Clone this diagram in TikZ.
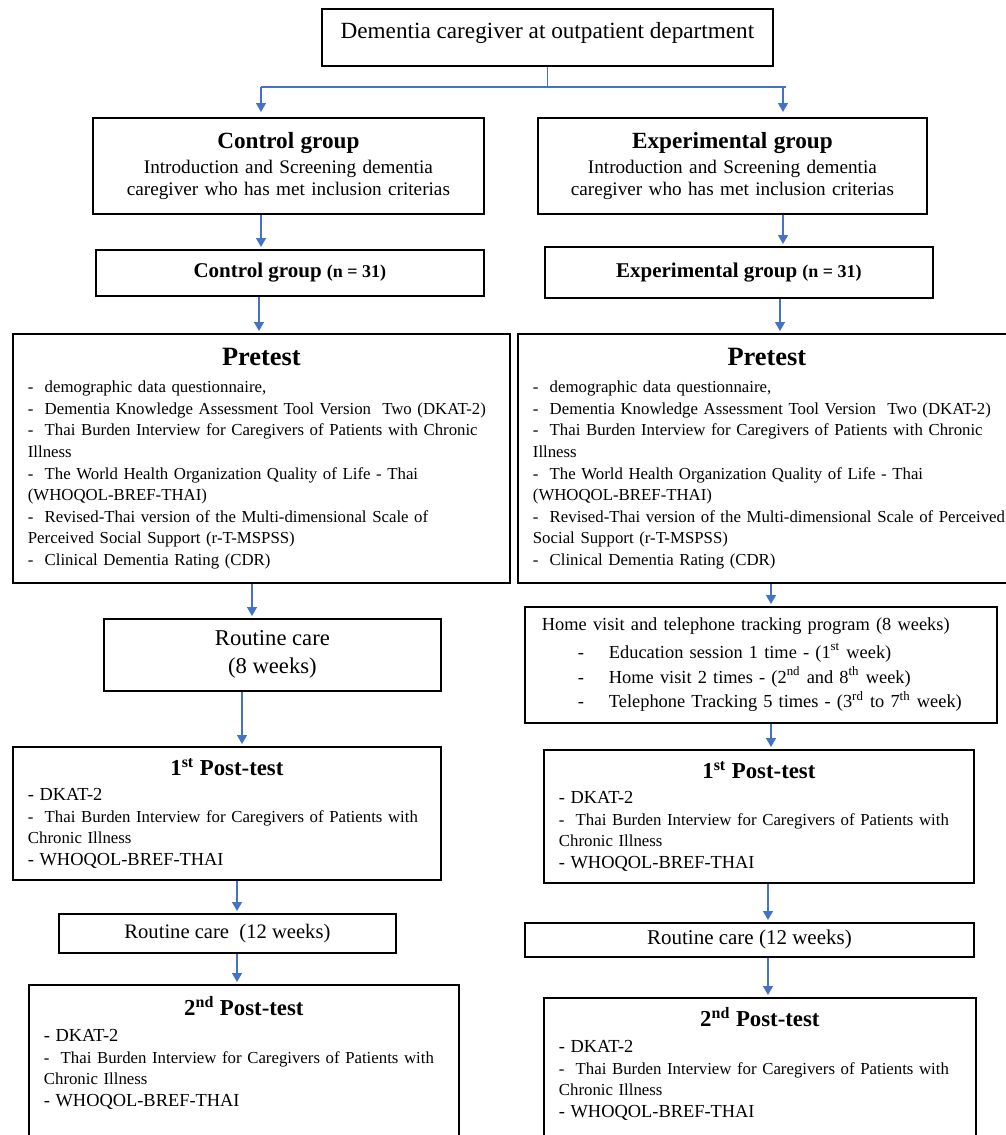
\documentclass[tikz,border=0pt]{standalone}
\usepackage{fontspec}
\setmainfont{Liberation Serif}
\usetikzlibrary{arrows.meta}
\definecolor{linkblue}{RGB}{68,114,196}
\newcommand{\grouphead}[1]{{\fontsize{11.6}{13}\selectfont\bfseries #1}}
\newcommand{\boxhead}[2]{\makebox[\linewidth]{\fontsize{#1}{#1}\selectfont\bfseries #2}}
\tikzset{
  box/.style={draw, line width=0.9pt, anchor=north west, inner xsep=7.5pt, inner ysep=2pt},
  listbox/.style={box, align=left, font=\fontsize{8.4}{10.8}\selectfont}
}

\begin{document}
\begin{tikzpicture}[x=0.5pt, y=-0.5pt,
    link/.style={draw=linkblue, line width=0.7pt, -{Triangle[width=5pt,length=4.5pt]}, shorten >=1pt},
    trunk/.style={draw=linkblue, line width=0.7pt}
    ]
    \useasboundingbox (0,0) rectangle (1006,1135);

    \node[box, minimum width=225.5pt, minimum height=28.5pt, text depth=7pt,
        font=\fontsize{11.6}{13}\selectfont] (src) at (321,8)
        {Dementia caregiver at outpatient department};

    \node[box, minimum width=195.5pt, minimum height=48pt, text width=180pt, align=center,
        font=\fontsize{9.6}{11}\selectfont] (ctl) at (92,117)
        {\grouphead{Control group}\\[1.5pt]
         Introduction and Screening dementia\\
         caregiver who has met inclusion criterias};
    \node[box, minimum width=194.5pt, minimum height=48pt, text width=179pt, align=center,
        font=\fontsize{9.6}{11}\selectfont] (exp) at (537,117)
        {\grouphead{Experimental group}\\[1.5pt]
         Introduction and Screening dementia\\
         caregiver who has met inclusion criterias};

    \node[box, minimum width=194pt, minimum height=23pt,
        font=\fontsize{10.5}{12}\selectfont\bfseries] (ctln) at (95,249)
        {Control group {\fontsize{9}{10}\selectfont(n = 31)}};
    \node[box, minimum width=194pt, minimum height=25.5pt,
        font=\fontsize{10.5}{12}\selectfont\bfseries] (expn) at (544,246)
        {Experimental group {\fontsize{9}{10}\selectfont(n = 31)}};

    \node[listbox, minimum width=248.5pt, minimum height=124.5pt, text width=233.5pt] (preL) at (12,333)
        {\boxhead{13.2}{Pretest}\\[3pt]
         -\ \ demographic data questionnaire,\\
         -\ \ Dementia Knowledge Assessment Tool Version\ \ Two (DKAT-2)\\
         -\ \ Thai Burden Interview for Caregivers of Patients with Chronic\\
         Illness\\
         -\ \ The World Health Organization Quality of Life - Thai\\
         (WHOQOL-BREF-THAI)\\
         -\ \ Revised-Thai version of the Multi-dimensional Scale of\\
         Perceived Social Support (r-T-MSPSS)\\
         -\ \ Clinical Dementia Rating (CDR)};
    \node[listbox, minimum width=260pt, minimum height=124.5pt, text width=245pt] (preR) at (517,333)
        {\makebox[234pt]{\fontsize{13.2}{13.2}\selectfont\bfseries Pretest}\\[3pt]
         -\ \ demographic data questionnaire,\\
         -\ \ Dementia Knowledge Assessment Tool Version\ \ Two (DKAT-2)\\
         -\ \ Thai Burden Interview for Caregivers of Patients with Chronic\\
         Illness\\
         -\ \ The World Health Organization Quality of Life - Thai\\
         (WHOQOL-BREF-THAI)\\
         -\ \ Revised-Thai version of the Multi-dimensional Scale of Perceived\\
         Social Support (r-T-MSPSS)\\
         -\ \ Clinical Dementia Rating (CDR)};

    \node[box, minimum width=168.5pt, minimum height=36pt, align=center,
        font=\fontsize{11.3}{14}\selectfont] (rcL) at (103,618)
        {Routine care\\(8 weeks)};
    \node[box, minimum width=236pt, minimum height=58pt, text width=219pt, inner xsep=8.5pt, align=left,
        font=\fontsize{9.2}{12.3}\selectfont] (home) at (524,606)
        {Home visit and telephone tracking program (8 weeks)\\[1.5pt]
         \hspace*{18pt}\makebox[15.5pt][l]{-}Education session 1 time - (1\textsuperscript{st} week)\\
         \hspace*{18pt}\makebox[15.5pt][l]{-}Home visit 2 times - (2\textsuperscript{nd} and 8\textsuperscript{th} week)\\
         \hspace*{18pt}\makebox[15.5pt][l]{-}Telephone Tracking 5 times - (3\textsuperscript{rd} to 7\textsuperscript{th} week)};

    \node[listbox, minimum width=214pt, minimum height=66.5pt, text width=199pt] (p1L) at (12,746)
        {\boxhead{11.4}{1\textsuperscript{st} Post-test}\\[2pt]
         {\fontsize{9.2}{10}\selectfont - DKAT-2}\\
         -\ \ Thai Burden Interview for Caregivers of Patients with\\
         Chronic Illness\\
         {\fontsize{9.2}{10}\selectfont - WHOQOL-BREF-THAI}};
    \node[listbox, minimum width=215pt, minimum height=66.5pt, text width=200pt] (p1R) at (543,749)
        {\boxhead{11.4}{1\textsuperscript{st} Post-test}\\[2pt]
         {\fontsize{9.2}{10}\selectfont - DKAT-2}\\
         -\ \ Thai Burden Interview for Caregivers of Patients with\\
         Chronic Illness\\
         {\fontsize{9.2}{10}\selectfont - WHOQOL-BREF-THAI}};

    \node[box, minimum width=168.5pt, minimum height=19.5pt,
        font=\fontsize{10.3}{12}\selectfont] (rc2L) at (58,913)
        {Routine care\ \ (12 weeks)};
    \node[box, minimum width=224.5pt, minimum height=17pt,
        font=\fontsize{10.5}{12}\selectfont] (rc2R) at (524,922)
        {Routine care (12 weeks)};

    \node[listbox, minimum width=215pt, text width=200pt, inner ysep=6pt, text depth=75pt] (p2L) at (28,984)
        {\boxhead{11.4}{2\textsuperscript{nd} Post-test}\\[2pt]
         {\fontsize{9.2}{10}\selectfont - DKAT-2}\\
         -\ \ Thai Burden Interview for Caregivers of Patients with\\
         Chronic Illness\\
         {\fontsize{9.2}{10}\selectfont - WHOQOL-BREF-THAI}};
    \node[listbox, minimum width=216pt, text width=201pt, inner ysep=5pt, text depth=72pt] (p2R) at (543,997)
        {\boxhead{11.4}{2\textsuperscript{nd} Post-test}\\[2pt]
         {\fontsize{9.2}{10}\selectfont - DKAT-2}\\
         -\ \ Thai Burden Interview for Caregivers of Patients with\\
         Chronic Illness\\
         {\fontsize{9.2}{10}\selectfont - WHOQOL-BREF-THAI}};

    \coordinate (splitL) at (261,87);
    \coordinate (splitR) at (786,87);
    \draw[trunk] (src.south) |- (splitL);
    \draw[trunk] (src.south) |- (splitR);
    \draw[link, shorten >=2.5pt] (splitL) -- (ctl.north -| splitL);
    \draw[link, shorten >=2.5pt] (splitR -| 783,0) -- (exp.north -| 783,0);

    \draw[link] (ctl.south -| 261,0) -- (ctln.north -| 261,0);
    \draw[link] (ctln.south -| 259,0) -- (preL.north -| 259,0);
    \draw[link] (preL.south -| 252,0) -- (rcL.north -| 252,0);
    \draw[link] (rcL.south -| 242,0) -- (p1L.north -| 242,0);
    \draw[link] (p1L.south -| 237,0) -- (rc2L.north -| 237,0);
    \draw[link] (rc2L.south -| 237,0) -- (p2L.north -| 237,0);

    \draw[link] (exp.south -| 783,0) -- (expn.north -| 783,0);
    \draw[link] (expn.south -| 780,0) -- (preR.north -| 780,0);
    \draw[link] (preR.south -| 771,0) -- (home.north -| 771,0);
    \draw[link] (home.south -| 771,0) -- (p1R.north -| 771,0);
    \draw[link] (p1R.south -| 768,0) -- (rc2R.north -| 768,0);
    \draw[link] (rc2R.south -| 768,0) -- (p2R.north -| 768,0);
\end{tikzpicture}
\end{document}
